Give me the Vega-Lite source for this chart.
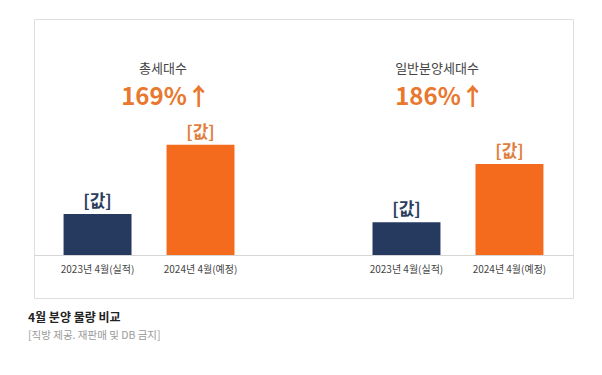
{
  "$schema": "https://vega.github.io/schema/vega-lite/v6.json",
  "autosize": "none",
  "width": 539,
  "height": 279,
  "padding": {"left": 34, "top": 19, "right": 29, "bottom": 77},
  "background": "#ffffff",
  "config": {
    "view": {"stroke": "#dedede", "strokeWidth": 1},
    "font": "Noto Sans CJK KR"
  },
  "title": {
    "text": "4월 분양 물량 비교",
    "subtitle": "[직방 제공. 재판매 및 DB 금지]",
    "orient": "bottom",
    "anchor": "start",
    "frame": "group",
    "dx": -6,
    "offset": 15,
    "font": "Noto Sans CJK KR",
    "fontSize": 12,
    "fontWeight": "bold",
    "color": "#222222",
    "subtitleFont": "Noto Sans CJK KR",
    "subtitleFontSize": 10.5,
    "subtitleColor": "#9a9a9a",
    "subtitlePadding": 6
  },
  "datasets": {
    "bars": [
      {"key": "총세대수|2023년 4월(실적)", "period": "2023년 4월(실적)", "value": 100, "label": "[값]"},
      {"key": "총세대수|2024년 4월(예정)", "period": "2024년 4월(예정)", "value": 269, "label": "[값]"},
      {"key": "일반분양세대수|2023년 4월(실적)", "period": "2023년 4월(실적)", "value": 80, "label": "[값]"},
      {"key": "일반분양세대수|2024년 4월(예정)", "period": "2024년 4월(예정)", "value": 222, "label": "[값]"}
    ],
    "heads": [
      {"group": "총세대수", "pct": "169%↑"},
      {"group": "일반분양세대수", "pct": "186%↑"}
    ]
  },
  "layer": [
    {
      "data": {"name": "bars"},
      "encoding": {
        "x": {
          "field": "key",
          "type": "nominal",
          "sort": null,
          "scale": {
            "type": "band",
            "domain": ["총세대수|2023년 4월(실적)", "총세대수|2024년 4월(예정)", " ", "일반분양세대수|2023년 4월(실적)", "일반분양세대수|2024년 4월(예정)"],
            "paddingInner": 0.34,
            "paddingOuter": 0.287
          },
          "axis": {
            "orient": "bottom",
            "offset": -43,
            "title": null,
            "ticks": false,
            "grid": false,
            "domainColor": "#d6d6d6",
            "labelAngle": 0,
            "labelPadding": 9,
            "labelFont": "Noto Sans CJK KR",
            "labelFontSize": 10,
            "labelColor": "#444444",
            "labelExpr": "indexof(datum.value, '|') > 0 ? split(datum.value, '|')[1] : ''"
          }
        },
        "y": {
          "field": "value",
          "type": "quantitative",
          "scale": {"domain": [-104.9, 575.6], "nice": false, "zero": false},
          "axis": null
        }
      },
      "layer": [
        {
          "mark": {"type": "bar"},
          "encoding": {
            "color": {
              "field": "period",
              "type": "nominal",
              "scale": {"domain": ["2023년 4월(실적)", "2024년 4월(예정)"], "range": ["#263a5f", "#f56b1e"]},
              "legend": null
            }
          }
        },
        {
          "mark": {"type": "text", "baseline": "bottom", "dy": -3, "fontSize": 17, "fontWeight": "bold", "font": "Noto Sans CJK KR"},
          "encoding": {
            "text": {"field": "label"},
            "color": {
              "condition": {"test": "datum.period === '2023년 4월(실적)'", "value": "#2c3e5e"},
              "value": "#e0803f"
            }
          }
        }
      ]
    },
    {
      "data": {"name": "heads"},
      "encoding": {
        "x": {
          "field": "group",
          "type": "nominal",
          "sort": null,
          "scale": {"type": "band", "domain": ["총세대수", "일반분양세대수"], "paddingInner": 0.1, "paddingOuter": 0.0336, "align": 0.31},
          "axis": null
        }
      },
      "layer": [
        {
          "mark": {"type": "text", "baseline": "alphabetic", "fontSize": 13, "color": "#444444", "font": "Noto Sans CJK KR"},
          "encoding": {
            "text": {"field": "group"},
            "y": {"datum": 443, "type": "quantitative"}
          }
        },
        {
          "mark": {"type": "text", "baseline": "alphabetic", "fontSize": 24, "fontWeight": "bold", "color": "#e9772e", "font": "Noto Sans CJK KR", "dx": 3},
          "encoding": {
            "text": {"field": "pct"},
            "y": {"datum": 366, "type": "quantitative"}
          }
        }
      ]
    }
  ],
  "resolve": {"scale": {"x": "independent"}}
}
